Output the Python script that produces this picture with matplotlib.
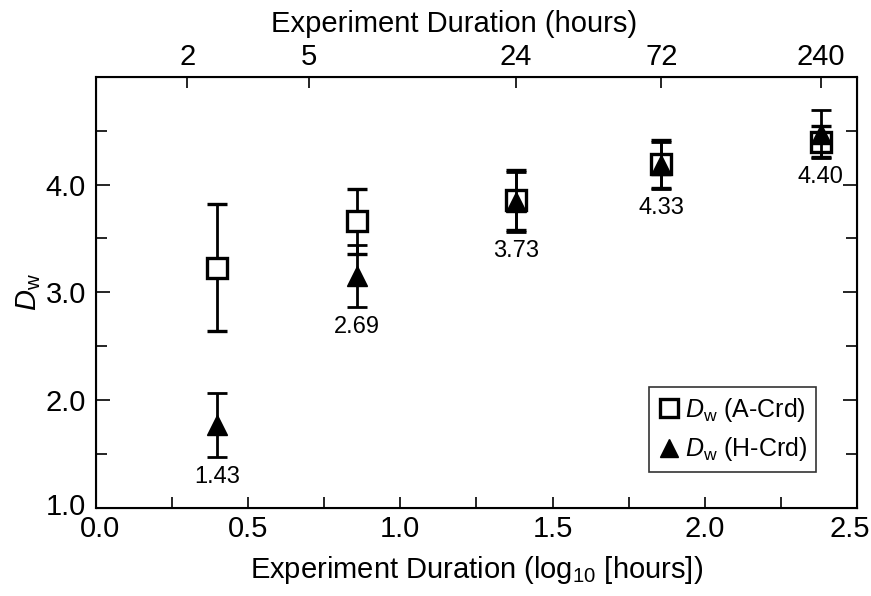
import numpy as np
import matplotlib
matplotlib.use('Agg')
import matplotlib.pyplot as plt
import matplotlib.transforms as mtransforms
from matplotlib.ticker import MultipleLocator
from matplotlib.lines import Line2D

plt.rcParams['font.family'] = ['Liberation Sans', 'DejaVu Sans']
plt.rcParams['mathtext.fontset'] = 'custom'
plt.rcParams['mathtext.rm'] = 'Liberation Sans'
plt.rcParams['mathtext.it'] = 'Liberation Sans:italic'

# experiment durations (hours) and D_w values
hours = [2.5, 7.2, 24, 72, 240]
dw_a = [3.23, 3.66, 3.86, 4.19, 4.40]
err_a = [0.59, 0.30, 0.28, 0.22, 0.14]
dw_h = [1.77, 3.15, 3.84, 4.18, 4.47]
err_h = [0.30, 0.29, 0.28, 0.22, 0.22]
labels = ['1.43', '2.69', '3.73', '4.33', '4.40']
top_ticks = [2, 5, 24, 72, 240]

x = np.log10(hours)

fig = plt.figure(figsize=(8.71, 5.96), dpi=100)
ax = fig.add_axes([0.110, 0.148, 0.874, 0.723])

ax.errorbar(x, dw_a, yerr=err_a, fmt='s', mfc='white', mec='black', mew=2.4,
            ms=14, ecolor='black', elinewidth=2, capsize=7, capthick=2, zorder=3)
ax.errorbar(x, dw_h, yerr=err_h, fmt='^', mfc='black', mec='black', ms=14,
            ecolor='black', elinewidth=2, capsize=7, capthick=2, zorder=4)

for xi, a, ea, h, eh, lab in zip(x, dw_a, err_a, dw_h, err_h, labels):
    low = min(a - ea, h - eh)
    ax.annotate(lab, (xi, low), xytext=(0, -14), textcoords='offset points',
                ha='center', va='center', fontsize=17)

ax.set_xlim(0, 2.5)
ax.set_ylim(1.0, 5.0)
ax.set_xticks([0, 0.5, 1.0, 1.5, 2.0, 2.5])
ax.set_xticklabels(['0.0', '0.5', '1.0', '1.5', '2.0', '2.5'])
ax.xaxis.set_minor_locator(MultipleLocator(0.25))
ax.set_yticks([1, 2, 3, 4])
ax.set_yticklabels(['1.0', '2.0', '3.0', '4.0'])
ax.yaxis.set_minor_locator(MultipleLocator(0.5))
ax.tick_params(axis='both', which='major', direction='in', labelsize=21,
               length=10, width=1.2, right=True)
ax.tick_params(axis='both', which='minor', direction='in', length=8,
               width=1.2, right=True)
ax.tick_params(axis='x', which='major', length=8, pad=5)
ax.tick_params(axis='y', which='major', pad=7)
for s in ax.spines.values():
    s.set_linewidth(1.5)

# keep the outer x tick labels inside the figure / clear of the y labels
xlabs = ax.get_xticklabels()
xlabs[0].set_transform(xlabs[0].get_transform() +
                       mtransforms.ScaledTranslation(3 / 72, 0, fig.dpi_scale_trans))
xlabs[-1].set_transform(xlabs[-1].get_transform() +
                        mtransforms.ScaledTranslation(-5 / 72, 0, fig.dpi_scale_trans))
ylabs = ax.get_yticklabels()
ylabs[0].set_transform(ylabs[0].get_transform() +
                       mtransforms.ScaledTranslation(0, 3 / 72, fig.dpi_scale_trans))

ax.set_xlabel(r'Experiment Duration (log$_{10}$ [hours])', fontsize=21, labelpad=8)
ax.set_ylabel(r'$D_\mathrm{w}$', fontsize=21, labelpad=2)

top = ax.twiny()
top.set_xlim(ax.get_xlim())
top.set_xticks(np.log10(top_ticks))
top.set_xticklabels([str(t) for t in top_ticks])
top.tick_params(axis='x', direction='in', length=8, width=1.2, labelsize=21, pad=4)
top.set_xlabel('Experiment Duration (hours)', fontsize=21, labelpad=8, x=0.47)

handles = [
    Line2D([], [], ls='none', marker='s', ms=13, mfc='white', mec='black', mew=2.4),
    Line2D([], [], ls='none', marker='^', ms=13, mfc='black', mec='black'),
]
leg = ax.legend(handles, [r'$D_\mathrm{w}$ (A-Crd)', r'$D_\mathrm{w}$ (H-Crd)'],
                loc='lower right', bbox_to_anchor=(0.946, 0.083), fontsize=18,
                frameon=True, fancybox=False, edgecolor='black',
                handletextpad=0.2, borderpad=0.35, handlelength=0.9,
                labelspacing=0.45, borderaxespad=0)
leg.get_frame().set_linewidth(1.2)

fig.savefig('out.png', dpi=100)
